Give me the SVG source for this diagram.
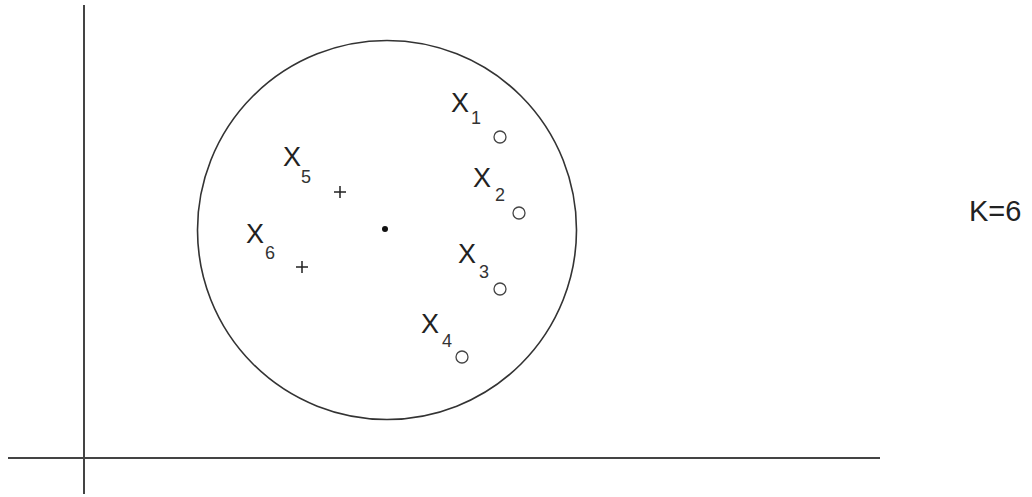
<svg xmlns="http://www.w3.org/2000/svg" width="1032" height="497" viewBox="0 0 1032 497">
<style>
.ax{stroke:#444;stroke-width:2;fill:none}
.lbl{font-family:"Liberation Sans",Arial,sans-serif;font-size:27px;fill:#222}
.sub{font-family:"Liberation Sans",Arial,sans-serif;font-size:18px;fill:#333}
.o{fill:none;stroke:#444;stroke-width:1.3}
.p{stroke:#222;stroke-width:1.5}
</style>
<rect width="1032" height="497" fill="#fff"/>
<g id="axes" class="ax">
<line x1="84" y1="5" x2="84" y2="494"/>
<line x1="8" y1="458" x2="880" y2="458"/>
</g>
<g id="circle"><circle cx="387" cy="230" r="189.5" fill="none" stroke="#333" stroke-width="1.6"/></g>
<g id="center"><circle cx="385" cy="229" r="3" fill="#111"/></g>
<g id="x1"><text class="lbl" x="451" y="112">X</text><text class="sub" x="471" y="124">1</text><circle class="o" cx="500" cy="137" r="6"/></g>
<g id="x2"><text class="lbl" x="473" y="187">X</text><text class="sub" x="495" y="201">2</text><circle class="o" cx="519" cy="213" r="6"/></g>
<g id="x3"><text class="lbl" x="458" y="263">X</text><text class="sub" x="479" y="278">3</text><circle class="o" cx="500" cy="289" r="6"/></g>
<g id="x4"><text class="lbl" x="421" y="333">X</text><text class="sub" x="442" y="347">4</text><circle class="o" cx="462" cy="357" r="6"/></g>
<g id="x5"><text class="lbl" x="283" y="166">X</text><text class="sub" x="301" y="183">5</text><path class="p" d="M334 192H346M340 186V198"/></g>
<g id="x6"><text class="lbl" x="246" y="243">X</text><text class="sub" x="265" y="259">6</text><path class="p" d="M296 267H308M302 261V273"/></g>
<g id="k"><text class="lbl" x="969" y="221" style="font-size:29px">K=6</text></g>
</svg>
